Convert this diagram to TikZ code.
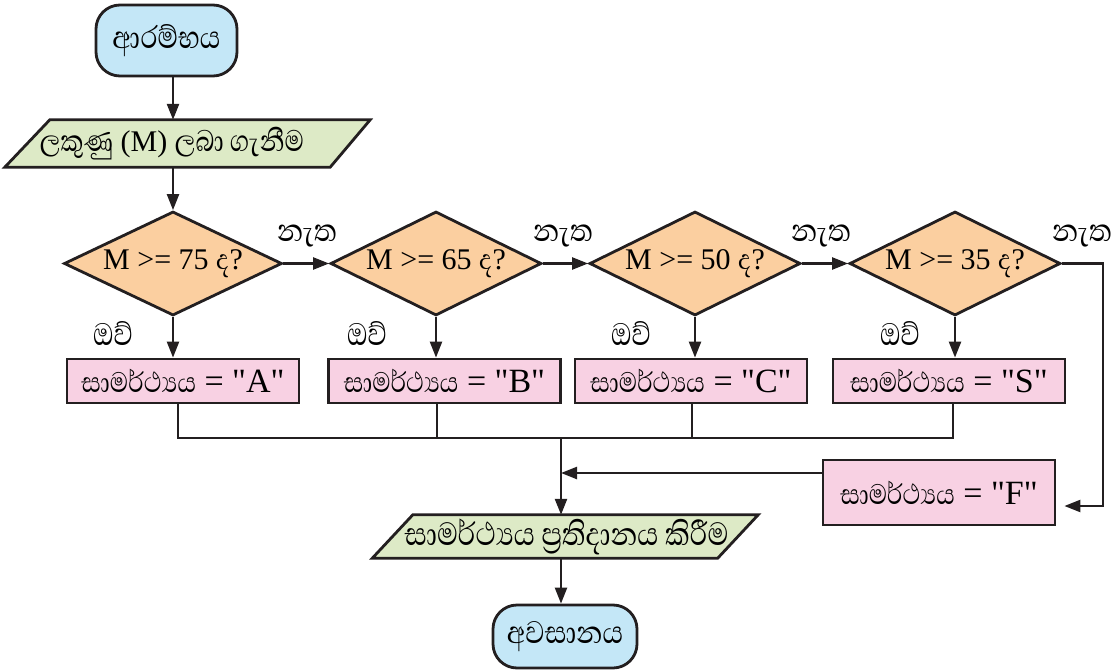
\documentclass[tikz,border=0pt]{standalone}
\usepackage{fontspec}
\setmainfont{Liberation Serif}[Ligatures=TeXOff]
\newfontfamily\sinhalafont[Script=Sinhala, FakeStretch=0.85]{Abhaya Libre}
\newcommand\sitxt[2][36]{{\sinhalafont\fontsize{#1}{#1}\selectfont #2}}
\usetikzlibrary{shapes.geometric,arrows.meta,calc}
\pgfdeclarelayer{background}
\pgfsetlayers{background,main}
\definecolor{lineC}{HTML}{231F20}
\definecolor{termC}{HTML}{C4E7F7}
\definecolor{ioC}{HTML}{DDEAC6}
\definecolor{decC}{HTML}{FBCFA0}
\definecolor{procC}{HTML}{F8D1E3}
\tikzset{
  shapeline/.style={draw=lineC, line width=2.8pt, line join=miter},
  txt/.style={font=\fontsize{30}{36}\selectfont, inner sep=0pt},
  term/.style={shapeline, txt, fill=termC, rounded corners=24pt, minimum width=141pt, minimum height=71pt},
  iobox/.style={txt, minimum height=45pt},
  dec/.style={shapeline, txt, diamond, fill=decC, shape aspect=2, minimum width=211pt, minimum height=104pt},
  proc/.style={shapeline, font=\fontsize{34}{38}\selectfont, inner sep=0pt, fill=procC, minimum width=232pt, minimum height=44pt},
  ln/.style={draw=lineC, line width=2.4pt},
  arr/.style={ln, -{Triangle[length=16pt,width=12pt]}},
  lbl/.style={inner sep=0pt}
}
\begin{document}
\begin{tikzpicture}[x=1pt, y=-1pt]
\useasboundingbox (0,0) rectangle (1118,671);

\node[term] (st) at (166.5,40.5) {\sitxt[40]{ආරම්භය}};
\node[iobox, minimum width=322pt, minimum height=47pt] (in) at (172,143.5) {\sitxt[38]{ලකුණු} (M) \sitxt[38]{ලබා ගැනීම}};

\node[dec, minimum width=218pt] (d1) at (173,263.5) {M >= 75 \sitxt{ද}?};
\node[dec] (d2) at (436,263.5) {M >= 65 \sitxt{ද}?};
\node[dec] (d3) at (695,263.5) {M >= 50 \sitxt{ද}?};
\node[dec] (d4) at (955,263.5) {M >= 35 \sitxt{ද}?};

\node[proc] (pa) at (183,381) {\sitxt{සාමර්ථ්^^^^200dයය} = "A"};
\node[proc] (pb) at (444.5,381) {\sitxt{සාමර්ථ්^^^^200dයය} = "B"};
\node[proc] (pc) at (691,381) {\sitxt{සාමර්ථ්^^^^200dයය} = "C"};
\node[proc] (ps) at (949,381) {\sitxt{සාමර්ථ්^^^^200dයය} = "S"};
\node[proc, minimum height=65pt] (pf) at (939,492.5) {\sitxt{සාමර්ථ්^^^^200dයය} = "F"};

\node[iobox, minimum width=345pt, minimum height=43pt] (out) at (566.5,536.5) {\sitxt[41]{සාමර්ථ්^^^^200dයය ප්^^^^200dරතිදානය කිරීම}};
\node[term, minimum width=144pt, minimum height=63pt] (en) at (565,636.5) {\sitxt[40]{අවසානය}};

\begin{pgfonlayer}{background}
\path[shapeline, fill=ioC] ($(in.south west)+(-6,0)$) -- ($(in.north west)+(39,0)$) -- ($(in.north east)+(37,0)$) -- ($(in.south east)+(-3,0)$) -- cycle;
\path[shapeline, fill=ioC] ($(out.south west)+(-21.5,0)$) -- ($(out.north west)+(19,0)$) -- ($(out.north east)+(19,0)$) -- ($(out.south east)+(-21.5,0)$) -- cycle;
\end{pgfonlayer}

\node[lbl] (n1) at (307,236) {\sitxt[40]{නැත}};
\node[lbl] (n2) at (563,236) {\sitxt[40]{නැත}};
\node[lbl] (n3) at (821,236) {\sitxt[40]{නැත}};
\node[lbl] (n4) at (1082,236) {\sitxt[40]{නැත}};
\node[lbl] (y1) at (113,334) {\sitxt[40]{ඔව්}};
\node[lbl] (y2) at (367,334) {\sitxt[40]{ඔව්}};
\node[lbl] (y3) at (631,334) {\sitxt[40]{ඔව්}};
\node[lbl] (y4) at (900,334) {\sitxt[40]{ඔව්}};

\draw[arr] (st.south -| d1.north) -- (in.north -| d1.north);
\draw[arr] (in.south -| d1.north) -- (d1.north);
\draw[arr] (d1.east) -- (d2.west);
\draw[arr] (d2.east) -- (d3.west);
\draw[arr] (d3.east) -- (d4.west);
\draw[arr] (d1.south) -- (d1.south |- pa.north);
\draw[arr] (d2.south) -- (d2.south |- pb.north);
\draw[arr] (d3.south) -- (d3.south |- pc.north);
\draw[arr] (d4.south) -- (d4.south |- ps.north);

\coordinate (m) at (561,438);
\coordinate (ja) at ($(pa.south)+(-5,0)$);
\coordinate (jb) at ($(pb.south)+(-7.5,0)$);
\coordinate (jc) at ($(pc.south)+(1,0)$);
\coordinate (js) at ($(ps.south)+(4,0)$);
\draw[ln] (ja) -- (ja |- m) -- (js |- m) -- (js);
\draw[ln] (jb) -- (jb |- m);
\draw[ln] (jc) -- (jc |- m);
\draw[arr] (m) -- (m |- out.north);

\coordinate (fw) at ($(pf.west)+(0,-19.5)$);
\draw[arr] (fw) -- (fw -| m);

\coordinate (r) at (1103,263.5);
\coordinate (fe) at ($(pf.east)+(8,13.5)$);
\draw[arr] (d4.east) -- (d4.east -| r) -- (r |- fe) -- (fe);

\draw[arr] (out.south -| m) -- (en.north -| m);
\end{tikzpicture}
\end{document}
